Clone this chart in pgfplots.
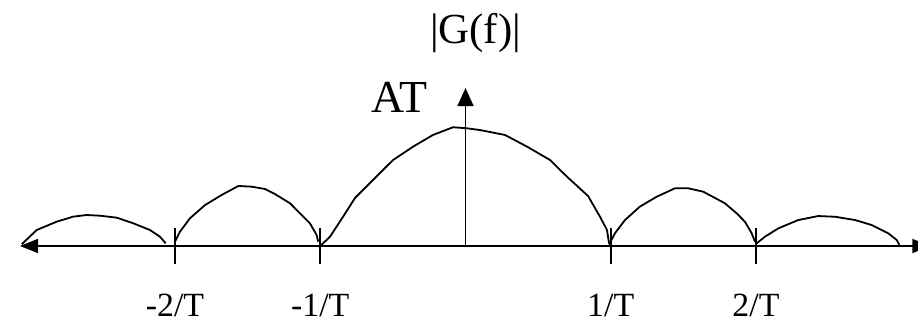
\documentclass[border=0pt]{standalone}
\usepackage{pgfplots}
\pgfplotsset{compat=1.18}
\usepackage{fontspec}
\setmainfont{Liberation Serif}
\usetikzlibrary{arrows.meta}
\begin{document}
\begin{tikzpicture}
\begin{axis}[
  x=145.25bp, y=117bp,
  xmin=-3.067, xmax=3.2, ymin=0, ymax=1.35,
  axis lines=middle,
  clip=false,
  axis line style={line width=1.6bp, black},
  x axis line style={{Triangle[length=18bp,width=14bp]}-{Triangle[length=18bp,width=14bp]}},
  y axis line style={-{Triangle[length=18bp,width=16bp]}},
  xtick={-2,-1,1,2},
  xticklabels={-2/T,-1/T,1/T,2/T},
  ytick=\empty,
  xtick align=center,
  major tick length=35bp,
  tick style={line width=1.6bp, black},
  xticklabel style={anchor=base, yshift=-53bp, font=\fontsize{34}{40}\selectfont, inner sep=0pt},
]
\addplot[black, line width=1.8bp, line join=round] coordinates {
(-1,0) (-0.933,0.079) (-0.843,0.25) (-0.761,0.41) (-0.637,0.564) (-0.499,0.735)
(-0.361,0.849) (-0.224,0.949) (-0.086,1.015) (0.01,1.006) (0.1,0.991) (0.272,0.949)
(0.424,0.849) (0.582,0.735) (0.699,0.592) (0.844,0.427) (0.926,0.25) (0.974,0.137)
(0.988,0.026) (1,0)
};
\addplot[black, line width=1.8bp, line join=round] coordinates {
(-2.0,0.037) (-1.966,0.122) (-1.897,0.237) (-1.793,0.35) (-1.679,0.436) (-1.564,0.513)
(-1.472,0.507) (-1.38,0.487) (-1.312,0.444) (-1.208,0.365) (-1.128,0.265) (-1.071,0.194)
(-1.025,0.094) (-1.014,0.037)
};
\addplot[black, line width=1.8bp, line join=round] coordinates {
(0.995,0.028) (1.029,0.109) (1.098,0.222) (1.2,0.336) (1.316,0.421) (1.442,0.493)
(1.534,0.493) (1.637,0.464) (1.786,0.365) (1.867,0.279) (1.924,0.207) (1.97,0.109)
(1.993,0.037)
};
\addplot[black, line width=1.8bp, line join=round] coordinates {
(-3.055,0.015) (-2.952,0.137) (-2.814,0.208) (-2.7,0.251) (-2.608,0.265) (-2.516,0.259)
(-2.401,0.242) (-2.287,0.194) (-2.173,0.137) (-2.103,0.079) (-2.064,0.023)
};
\addplot[black, line width=1.8bp, line join=round] coordinates {
(2.005,0.023) (2.062,0.08) (2.154,0.151) (2.291,0.222) (2.429,0.256) (2.544,0.25)
(2.682,0.222) (2.797,0.179) (2.911,0.108) (2.969,0.051) (2.987,0.009)
};
\node[anchor=base, inner sep=0pt, font=\fontsize{43}{50}\selectfont] at (axis cs:0.069,1.735) {|G(f)|};
\node[anchor=base, inner sep=0pt, font=\fontsize{46}{52}\selectfont] at (axis cs:-0.454,1.137) {AT};
\coordinate (O) at (axis cs:0,0);
\end{axis}
\pgfresetboundingbox
\path ([xshift=-465.5bp, yshift=-76bp]O) rectangle ([xshift=452.5bp, yshift=246bp]O);
\end{tikzpicture}
\end{document}
